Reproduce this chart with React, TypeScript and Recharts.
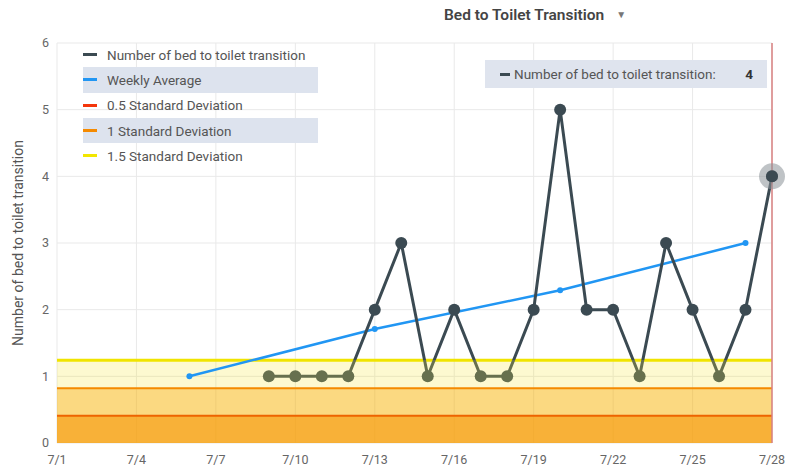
import React from 'react';
import {
    ComposedChart,
    XAxis,
    YAxis,
    Tooltip,
    Line,
    CartesianGrid,
    ReferenceArea,
    ReferenceLine
} from 'recharts';

// days of July shown on the x axis
const days = [1, 2, 3, 4, 5, 6, 7, 8, 9, 10, 11, 12, 13, 14, 15, 16, 17, 18, 19, 20, 21, 22, 23, 24, 25, 26, 27, 28];
// daily count of bed to toilet transitions (no data before 7/9)
const transitions = [null, null, null, null, null, null, null, null, 1, 1, 1, 1, 2, 3, 1, 2, 1, 1, 2, 5, 2, 2, 1, 3, 2, 1, 2, 4];
// weekly average, plotted on 7/6, 7/13, 7/20, 7/27
const weeklyAverage = [null, null, null, null, null, 1, null, null, null, null, null, null, 1.71, null, null, null, null, null, null, 2.29, null, null, null, null, null, null, 3, null];
const xTicks = [1, 4, 7, 10, 13, 16, 19, 22, 25, 28];
const yTicks = [0, 1, 2, 3, 4, 5, 6];
const Y_MAX = 6;

// standard deviation bands (0.5, 1, 1.5 SD)
const deviationLevels = [0.41, 0.82, 1.24];
const deviationFills = ['#f57600', '#fb9b0a', '#f5df12'];
const deviationFillOpacity = [0.6, 0.4, 0.2];
const deviationStrokes = ['#ee6400', '#f58a00', '#f0e400'];
const deviationStrokeWidths = [2, 2, 3];

const legendItems = [
    { label: 'Number of bed to toilet transition', color: '#3b4a52' },
    { label: 'Weekly Average', color: '#2196f3' },
    { label: '0.5 Standard Deviation', color: '#f4360b' },
    { label: '1 Standard Deviation', color: '#f58a00' },
    { label: '1.5 Standard Deviation', color: '#f2e600' }
];

const data = days.map((d, i) => ({
    day: d,
    count: transitions[i],
    avg: weeklyAverage[i]
}));

const FONT = 'Roboto, "Noto Sans", sans-serif';
const PLOT_TOP = 43;
const PLOT_BOTTOM = 443;
// where the 1.5 SD band starts, as fraction from the plot top
const bandStop = (Y_MAX - deviationLevels[2]) / Y_MAX;

const LegendBox = () => (
    <div
        style={{
            position: 'absolute',
            left: 83,
            top: 42,
            fontFamily: FONT,
            fontSize: 13.5,
            color: '#555',
            zIndex: 2
        }}
    >
        {legendItems.map((item, i) => (
            <div
                key={item.label}
                style={{
                    display: 'flex',
                    alignItems: 'center',
                    height: 25.3,
                    width: 235,
                    whiteSpace: 'nowrap',
                    background: i % 2 === 1 ? '#dde3ee' : 'transparent'
                }}
            >
                <span style={{ width: 14, height: 3, background: item.color, marginRight: 10 }} />
                <span>{item.label}</span>
            </div>
        ))}
    </div>
);

const TooltipBox = ({ payload }: any) => {
    const item = (payload || []).find((p: any) => p.dataKey === 'count');
    if (!item) return null;
    return (
        <div
            style={{
                width: 282,
                height: 28,
                background: '#dfe4ee',
                display: 'flex',
                alignItems: 'center',
                fontFamily: FONT,
                fontSize: 13.5,
                color: '#555',
                whiteSpace: 'nowrap',
                boxSizing: 'border-box',
                padding: '0 14px 0 15px'
            }}
        >
            <span style={{ width: 10, height: 3, background: '#3b4a52', marginRight: 4 }} />
            <span style={{ flex: 1 }}>Number of bed to toilet transition:</span>
            <span style={{ fontWeight: 700, color: '#333' }}>{item.value}</span>
        </div>
    );
};

const HoverDot = (props: any) => {
    const { cx, cy } = props;
    return (
        <g>
            <circle cx={cx} cy={cy} r={13} fill="#8a9297" fillOpacity={0.55} />
            <circle cx={cx} cy={cy} r={6} fill="#3b4a52" />
        </g>
    );
};

const App = () => {
    return (
        <div style={{ position: 'absolute', left: 0, top: 0, width: 800, height: 475, background: '#fff' }}>
            <div
                style={{
                    position: 'absolute',
                    left: 444,
                    top: 6,
                    fontFamily: FONT,
                    fontSize: 15.5,
                    fontWeight: 600,
                    color: '#444',
                    whiteSpace: 'nowrap',
                    zIndex: 2
                }}
            >
                Bed to Toilet Transition
                <span style={{ fontSize: 10, color: '#777', marginLeft: 12, position: 'relative', top: -2 }}>▼</span>
            </div>
            <LegendBox />
            <ComposedChart
                width={800}
                height={475}
                data={data}
                margin={{ top: PLOT_TOP, right: 28, bottom: 0, left: 0 }}
            >
                <defs>
                    <linearGradient id="countGrad" gradientUnits="userSpaceOnUse" x1="0" y1={PLOT_TOP} x2="0" y2={PLOT_BOTTOM}>
                        <stop offset={bandStop} stopColor="#3b4a52" />
                        <stop offset={bandStop} stopColor="#67704e" />
                    </linearGradient>
                </defs>
                <CartesianGrid stroke="#e9e9e9" />
                <XAxis
                    dataKey="day"
                    type="number"
                    domain={[1, 28]}
                    ticks={xTicks}
                    tickFormatter={(d) => `7/${d}`}
                    axisLine={false}
                    tickLine={false}
                    height={32}
                    tickMargin={6}
                    tick={{ fontSize: 12.5, fill: '#666', fontFamily: FONT }}
                />
                <YAxis
                    domain={[0, Y_MAX]}
                    ticks={yTicks}
                    axisLine={false}
                    tickLine={false}
                    width={57}
                    tick={{ fontSize: 12.5, fill: '#666', fontFamily: FONT }}
                    label={{
                        value: 'Number of bed to toilet transition',
                        angle: -90,
                        position: 'insideLeft',
                        offset: 18,
                        style: { textAnchor: 'middle', fontSize: 14, fill: '#555', fontFamily: FONT }
                    }}
                />
                {deviationLevels.map((lvl, i) => (
                    <ReferenceArea
                        key={'a' + i}
                        y1={0}
                        y2={lvl}
                        fill={deviationFills[i]}
                        fillOpacity={deviationFillOpacity[i]}
                        stroke="none"
                    />
                ))}
                {deviationLevels.map((lvl, i) => (
                    <ReferenceLine
                        key={'l' + i}
                        y={lvl}
                        stroke={deviationStrokes[i]}
                        strokeWidth={deviationStrokeWidths[i]}
                    />
                ))}
                <Line
                    dataKey="avg"
                    stroke="#2196f3"
                    strokeWidth={2.5}
                    connectNulls
                    dot={{ r: 3, fill: '#2196f3', stroke: 'none' }}
                    activeDot={false}
                    isAnimationActive={false}
                />
                <Line
                    dataKey="count"
                    stroke="url(#countGrad)"
                    strokeWidth={3}
                    dot={{ r: 6, fill: 'url(#countGrad)', stroke: 'none' }}
                    activeDot={<HoverDot />}
                    isAnimationActive={false}
                />
                <Tooltip
                    active
                    defaultIndex={27}
                    content={<TooltipBox />}
                    position={{ x: 485, y: 60 }}
                    cursor={{ stroke: '#d98080', strokeWidth: 1.5 }}
                    isAnimationActive={false}
                />
            </ComposedChart>
        </div>
    );
};

export default App;
